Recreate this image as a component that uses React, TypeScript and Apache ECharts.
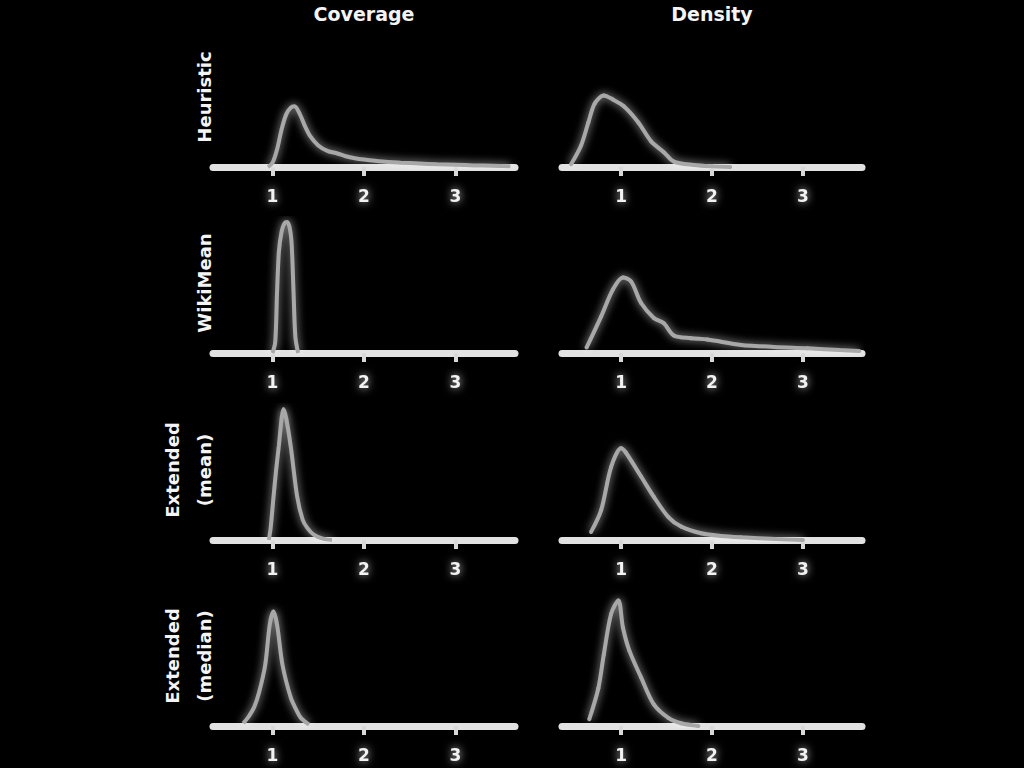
import { useEffect, useRef } from 'react';
import * as echarts from 'echarts';

// column titles and row labels
const columns = ['Coverage', 'Density'];
const rowLabels: string[][] = [
  ['Heuristic'],
  ['WikiMean'],
  ['Extended', '(mean)'],
  ['Extended', '(median)'],
];
const tickValues = [1, 2, 3];

// [x, relative density] pairs
const heuristicCoverage = [
  [0.95, 0], [1.0, 0.03], [1.05, 0.13], [1.1, 0.28], [1.15, 0.39], [1.2, 0.44], [1.24, 0.45],
  [1.3, 0.39], [1.35, 0.31], [1.41, 0.23], [1.5, 0.16], [1.6, 0.12], [1.71, 0.1], [1.8, 0.08],
  [1.9, 0.065], [2.0, 0.055], [2.2, 0.04], [2.4, 0.032], [2.6, 0.026], [2.8, 0.02], [3.0, 0.016],
  [3.2, 0.012], [3.4, 0.009], [3.6, 0.005],
];
const heuristicDensity = [
  [0.45, 0.02], [0.56, 0.16], [0.64, 0.33], [0.71, 0.47], [0.81, 0.53], [0.91, 0.5], [1.03, 0.45],
  [1.19, 0.33], [1.33, 0.19], [1.47, 0.11], [1.58, 0.04], [1.8, 0.015], [2.0, 0.005], [2.2, 0],
];
const wikiCoverage = [
  [1.0, 0], [1.03, 0.08], [1.05, 0.45], [1.07, 0.75], [1.1, 0.9], [1.13, 0.96], [1.16, 0.97],
  [1.19, 0.92], [1.21, 0.8], [1.23, 0.45], [1.25, 0.12], [1.28, 0],
];
const wikiDensity = [
  [0.62, 0.04], [0.78, 0.27], [0.91, 0.47], [1.02, 0.56], [1.11, 0.53], [1.22, 0.37], [1.36, 0.26],
  [1.47, 0.22], [1.58, 0.13], [1.77, 0.11], [1.95, 0.1], [2.32, 0.06], [2.68, 0.045], [3.05, 0.035],
  [3.4, 0.022], [3.62, 0.015],
];
const meanCoverage = [
  [0.96, 0], [0.98, 0.09], [1.01, 0.31], [1.04, 0.52], [1.07, 0.7], [1.1, 0.9], [1.12, 0.97],
  [1.15, 0.9], [1.2, 0.69], [1.27, 0.32], [1.33, 0.15], [1.38, 0.09], [1.45, 0.04], [1.55, 0.01],
  [1.65, 0],
];
const meanDensity = [
  [0.67, 0.06], [0.78, 0.22], [0.89, 0.54], [1.0, 0.68], [1.05, 0.65], [1.22, 0.47], [1.36, 0.32],
  [1.52, 0.17], [1.66, 0.1], [1.88, 0.05], [2.1, 0.03], [2.32, 0.02], [2.7, 0.008], [3.0, 0],
];
const medianCoverage = [
  [0.68, 0.02], [0.74, 0.07], [0.8, 0.14], [0.85, 0.24], [0.92, 0.45], [0.97, 0.75], [1.01, 0.85],
  [1.05, 0.75], [1.11, 0.45], [1.2, 0.21], [1.26, 0.12], [1.31, 0.06], [1.4, 0.01],
];
const medianDensity = [
  [0.65, 0.05], [0.75, 0.28], [0.81, 0.53], [0.89, 0.83], [0.97, 0.93], [1.02, 0.73], [1.09, 0.56],
  [1.22, 0.36], [1.36, 0.16], [1.52, 0.06], [1.66, 0.02], [1.85, 0],
];

const panels = [
  [heuristicCoverage, heuristicDensity],
  [wikiCoverage, wikiDensity],
  [meanCoverage, meanDensity],
  [medianCoverage, medianDensity],
];

const FONT = 'DejaVu Sans';
const colLeft = [213, 562];
const colWidth = [302, 300];
const axisY = [167, 353, 540, 726];
const plotH = 135;

const App = () => {
  const chartRef = useRef<HTMLDivElement>(null);

  useEffect(() => {
    if (!chartRef.current) return;
    document.body.style.background = '#000';
    const chart = echarts.init(chartRef.current, undefined, { renderer: 'svg' });

    const grid: any[] = [];
    const xAxis: any[] = [];
    const yAxis: any[] = [];
    const series: any[] = [];

    panels.forEach((row, r) => {
      row.forEach((data, c) => {
        const idx = grid.length;
        grid.push({
          left: colLeft[c],
          width: colWidth[c],
          top: axisY[r] - plotH,
          height: plotH,
          containLabel: false,
        });
        xAxis.push({
          type: 'value',
          gridIndex: idx,
          min: 0.35,
          max: 3.65,
          splitLine: { show: false },
          axisLine: {
            show: true,
            onZero: false,
            lineStyle: { color: '#e2e2e2', width: 7, cap: 'round' },
          },
          axisTick: {
            show: true,
            customValues: tickValues,
            length: 9,
            lineStyle: { color: '#d8d8d8', width: 4 },
          },
          axisLabel: {
            customValues: tickValues,
            color: '#f2f2f2',
            fontFamily: FONT,
            fontWeight: 'bold',
            fontSize: 17,
            margin: 20,
            textShadowColor: 'rgba(255,255,255,0.8)',
            textShadowBlur: 8,
          },
        });
        yAxis.push({
          type: 'value',
          gridIndex: idx,
          min: 0,
          max: 1,
          show: false,
        });
        series.push({
          type: 'line',
          xAxisIndex: idx,
          yAxisIndex: idx,
          data,
          smooth: 0.3,
          showSymbol: c === 1,
          symbol: 'circle',
          symbolSize: 4,
          itemStyle: { color: '#a8a8a8' },
          lineStyle: {
            color: '#a8a8a8',
            width: 4,
            shadowColor: 'rgba(255,255,255,0.7)',
            shadowBlur: 8,
          },
          z: 1,
        });
      });
    });

    const textStyle = {
      fill: '#f4f4f4',
      fontFamily: FONT,
      fontWeight: 'bold',
      fontSize: 19,
      align: 'center',
      verticalAlign: 'middle',
      shadowColor: 'rgba(255,255,255,0.9)',
      shadowBlur: 10,
    };

    const graphic: any[] = [];
    columns.forEach((name, c) => {
      graphic.push({
        type: 'text',
        x: colLeft[c] + colWidth[c] / 2,
        y: 14,
        style: { ...textStyle, text: name },
      });
    });
    rowLabels.forEach((lines, r) => {
      const cy = axisY[r] - 70;
      lines.forEach((line, i) => {
        const x = lines.length === 1 ? 204 : i === 0 ? 172 : 204;
        graphic.push({
          type: 'text',
          x,
          y: cy,
          rotation: Math.PI / 2,
          style: { ...textStyle, fontSize: 18, text: line },
        });
      });
    });

    chart.setOption({
      backgroundColor: '#000',
      animation: false,
      grid,
      xAxis,
      yAxis,
      series,
      graphic,
    });

    return () => {
      chart.dispose();
    };
  }, []);

  return (
    <div
      ref={chartRef}
      style={{ position: 'fixed', left: 0, top: 0, width: 1024, height: 768, background: '#000' }}
    />
  );
};

export default App;
